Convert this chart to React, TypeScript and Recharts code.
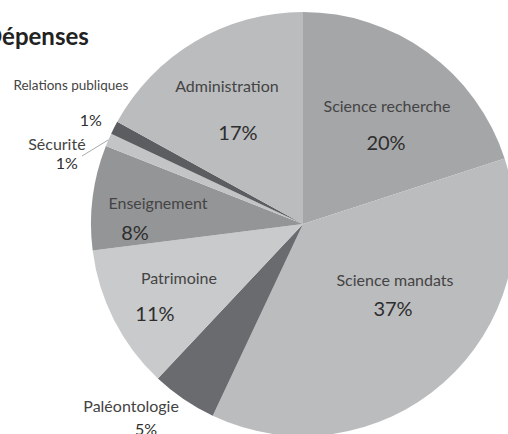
import React from 'react'
import { PieChart, Pie, Cell } from 'recharts'

const categories = [
  'Science recherche',
  'Science mandats',
  'Paléontologie',
  'Patrimoine',
  'Enseignement',
  'Sécurité',
  'Relations publiques',
  'Administration'
]
const shares = [20, 37, 5, 11, 8, 1, 1, 17]
const sliceColors = ['#a5a6a8', '#bbbcbe', '#6a6b6e', '#c9cacc', '#949597', '#c3c4c6', '#5c5d60', '#bbbcbe']

const data = categories.map((name, i) => ({ name, value: shares[i] }))

// label layout: polar spot for the name (radius factor, angle) and offset of the % below it
const labelPlace: Record<string, { r: number; a: number; px: number; py: number; small?: boolean }> = {
  'Science recherche': { r: 0.684, a: 54.6, px: -1, py: 36 },
  'Science mandats': { r: 0.508, a: -31.3, px: -2, py: 28 },
  'Paléontologie': { r: 1.178, a: -133.5, px: 15, py: 23 },
  'Patrimoine': { r: 0.638, a: -156.5, px: -24, py: 35 },
  'Enseignement': { r: 0.692, a: 171.4, px: -23, py: 30 },
  'Sécurité': { r: 1.222, a: 161.8, px: 10, py: 19 },
  'Relations publiques': { r: 1.276, a: 149.1, px: 20, py: 34, small: true },
  'Administration': { r: 0.747, a: 118.7, px: 11, py: 47 }
}

const RAD = Math.PI / 180
const FONT = 'Lato, "Open Sans", sans-serif'

const renderLabel = (props: any) => {
  const { cx, cy, outerRadius, midAngle, name, value } = props
  const p = labelPlace[name]
  if (!p) return null
  const x = cx + outerRadius * p.r * Math.cos(-p.a * RAD)
  const y = cy + outerRadius * p.r * Math.sin(-p.a * RAD)
  const outside = p.r > 1
  const pctSize = outside ? 16 : 20
  const nameSize = p.small ? 13.5 : 16
  let leader = null
  if (name === 'Sécurité') {
    const ex = cx + outerRadius * Math.cos(-midAngle * RAD)
    const ey = cy + outerRadius * Math.sin(-midAngle * RAD)
    leader = <line x1={x + p.px + 15} y1={y + p.py - 6} x2={ex} y2={ey} stroke="#a9aaac" strokeWidth={1} />
  }
  return (
    <g>
      {leader}
      <text x={x} y={y} textAnchor="middle" dominantBaseline="central" fill="#444"
        fontFamily={FONT} fontSize={nameSize}>{name}</text>
      <text x={x + p.px} y={y + p.py} textAnchor="middle" dominantBaseline="central" fill="#2e2e2e"
        fontFamily={FONT} fontSize={pctSize}>{value}%</text>
    </g>
  )
}

export default function App() {
  return (
    <div style={{ position: 'absolute', left: 0, top: 0, width: 508, height: 434, background: '#fff' }}>
      <PieChart width={508} height={434} margin={{ top: 0, right: 0, bottom: 0, left: 0 }}>
        <text x={-16} y={35} dominantBaseline="central" fontFamily={FONT} fontWeight={700}
          fontSize={24} fill="#222">Dépenses</text>
        <Pie
          data={data}
          dataKey="value"
          nameKey="name"
          cx={303}
          cy={224}
          outerRadius={212}
          startAngle={90}
          endAngle={-270}
          stroke="none"
          label={renderLabel}
          labelLine={false}
          isAnimationActive={false}
        >
          {data.map((d, i) => (
            <Cell key={d.name} fill={sliceColors[i]} />
          ))}
        </Pie>
      </PieChart>
    </div>
  )
}
